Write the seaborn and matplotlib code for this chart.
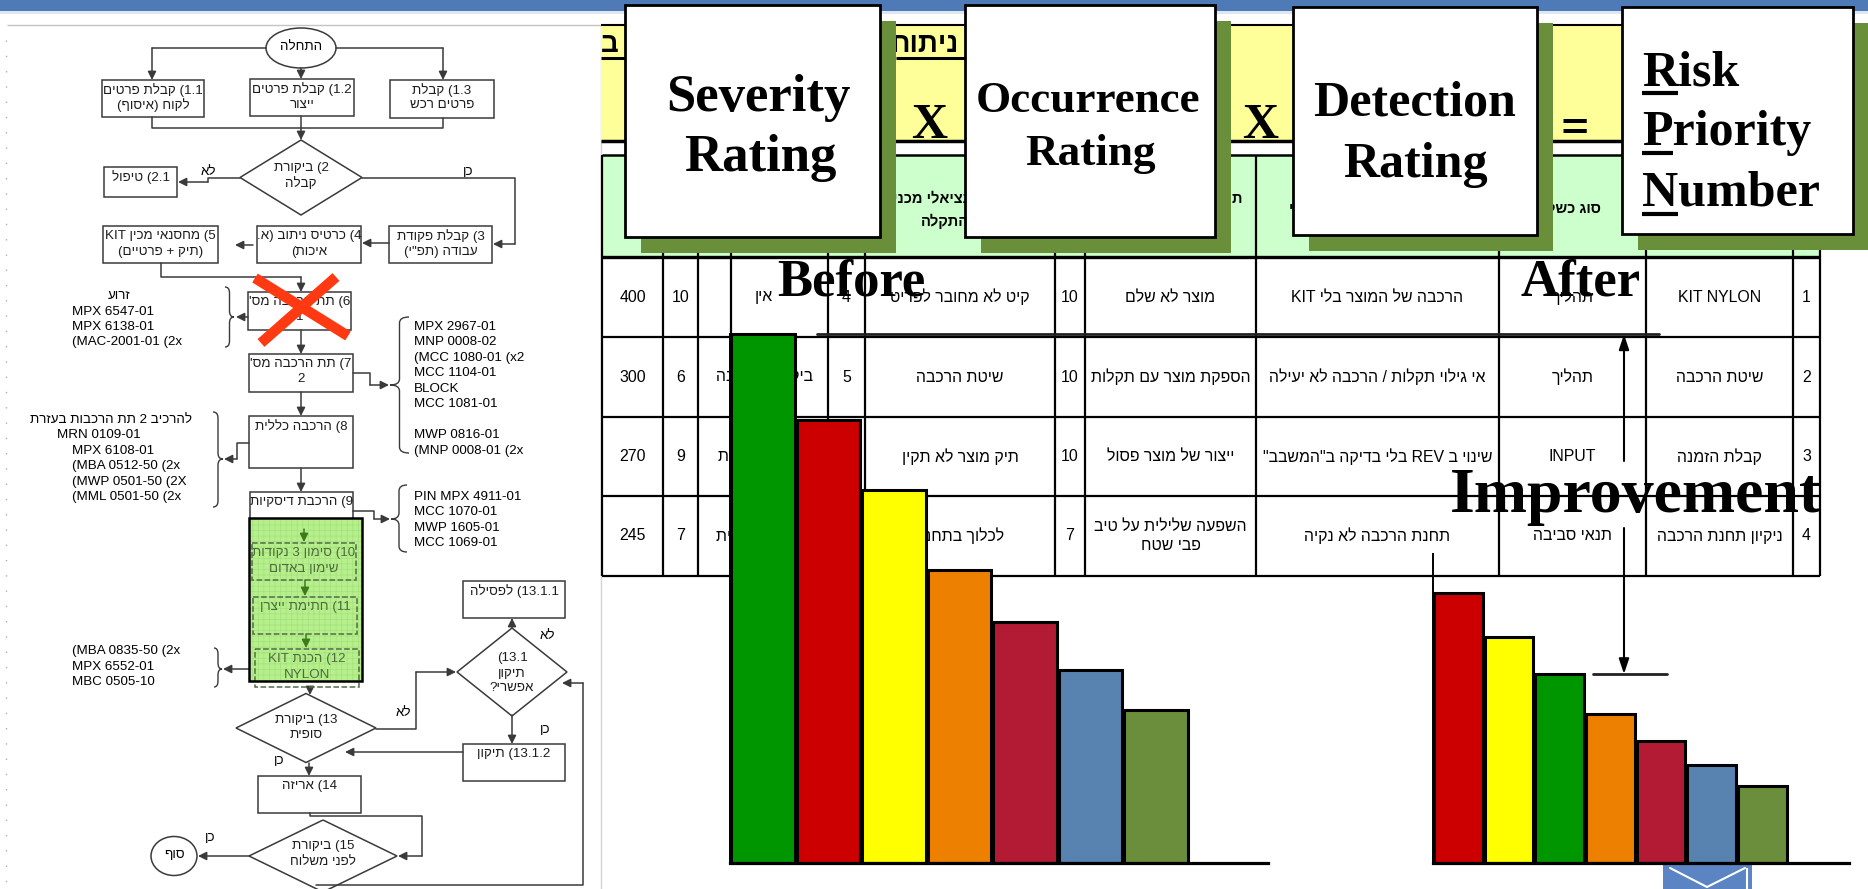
import re
import matplotlib
matplotlib.use("Agg")
import matplotlib.pyplot as plt
import matplotlib.patches as mpatches
import matplotlib.transforms as mtransforms
from matplotlib.lines import Line2D
from matplotlib.path import Path
import pandas as pd
import seaborn as sns

# ---------------------------------------------------------------- bar data
before_bars = ["green", "red", "yellow", "orange", "crimson", "blue", "olive"]
before_rpn = [400, 335, 282, 222, 182, 146, 116]
after_bars = ["red", "yellow", "green", "orange", "crimson", "blue", "olive"]
after_rpn = [204, 171, 143, 113, 92, 74, 58]
bar_palette = {"green": "#009600", "red": "#cc0000", "yellow": "#ffff00",
               "orange": "#ee8000", "crimson": "#b31b35", "blue": "#5883b1",
               "olive": "#6a8e3c"}

# ---------------------------------------------------------------- FMEA table
row_no = ["1", "2", "3", "4"]
process_step = ["KIT NYLON", "שיטת הרכבה", "קבלת הזמנה", "ניקיון תחנת הרכבה"]
failure_type = ["תהליך", "תהליך", "INPUT", "תנאי סביבה"]
failure_mode = ["הרכבה של המוצר בלי KIT", "אי גילוי תקלות / הרכבה לא יעילה",
                'שינוי ב REV בלי בדיקה ב"המשבב"', "תחנת הרכבה לא נקיה"]
failure_effect = ["מוצר לא שלם", "הספקת מוצר עם תקלות", "ייצור של מוצר פסול",
                  "השפעה שלילית על טיב\nפבי שטח"]
severity = ["10", "10", "10", "7"]
failure_cause = ["קיט לא מחובר לפריט", "שיטת הרכבה", "תיק מוצר לא תקין", "לכלוך בתחנה"]
occurrence = ["4", "5", "3", "5"]
current_control = ["אין", "ביקורת הרכבה", "בדיקת תקינות", "בדיקה ויזואלית"]
detection = ["10", "6", "9", "7"]
rpn = ["400", "300", "270", "245"]

# ---------------------------------------------------------------- helpers
HEB = re.compile(r"[\u0590-\u05FF]")
LTR_RUN = re.compile(r"[A-Za-z0-9](?:[A-Za-z0-9.\-/:,' ]*[A-Za-z0-9])?")
MIRROR = {"(": ")", ")": "(", "[": "]", "]": "[", "{": "}", "}": "{"}


def vis(s):
    """Reorder a right-to-left paragraph into left-to-right drawing order."""
    if not HEB.search(s):
        return s
    out = []
    for line in s.split("\n"):
        tokens, i = [], 0
        while i < len(line):
            m = LTR_RUN.match(line, i)
            if m and not HEB.search(m.group()):
                tokens.append(m.group())
                i = m.end()
            else:
                tokens.append(MIRROR.get(line[i], line[i]))
                i += 1
        out.append("".join(reversed(tokens)))
    return "\n".join(out)


SANS = ["Liberation Sans", "DejaVu Sans"]
SERIF = ["Liberation Serif", "DejaVu Serif"]

W, H = 1868, 889
sns.set_style("white")
fig = plt.figure(figsize=(W / 100, H / 100), dpi=100)
fig.patch.set_facecolor("white")

bg = fig.add_axes([0, 0, 1, 1], zorder=0)
bg.set_xlim(0, W)
bg.set_ylim(H, 0)
bg.axis("off")


def txt(ax, x, y, s, size=10, ha="center", va="center", family=SANS,
        weight="normal", color="black", **kw):
    return ax.text(x, y, vis(s), fontsize=size, ha=ha, va=va, family=family,
                   fontweight=weight, color=color, **kw)


def rect(ax, x0, y0, x1, y1, **kw):
    ax.add_patch(mpatches.Rectangle((x0, y0), x1 - x0, y1 - y0, **kw))


def hline(ax, y, x0, x1, lw=1.5, color="black", z=3):
    ax.add_line(Line2D([x0, x1], [y, y], lw=lw, color=color, zorder=z,
                       solid_capstyle="butt"))


def vline(ax, x, y0, y1, lw=1.5, color="black", z=3):
    ax.add_line(Line2D([x, x], [y0, y1], lw=lw, color=color, zorder=z,
                       solid_capstyle="butt"))


# ---------------------------------------------------------------- page frame
rect(bg, 0, 0, W, 11, fc="#4f7ab8", ec="none", zorder=1)
rect(bg, 0, 11, W, 14, fc="#dfe6f0", ec="none", zorder=1)
hline(bg, 25, 7, 601, lw=1.0, color="#c4c4c4", z=1)
vline(bg, 601, 25, H, lw=1.0, color="#d4d4d4", z=1)
bg.add_line(Line2D([6, 6], [40, H], lw=1.0, color="#b0b0b0",
                   ls=(0, (1, 10)), zorder=1))

# ---------------------------------------------------------------- flowchart
LC = "#3a3a3a"
FS = 9.6


def fbox(x0, y0, x1, y1, lines, ls="-", ec=LC, tcolor="#1c1c1c", z=3):
    rect(bg, x0, y0, x1, y1, fill=False, ec=ec, lw=1.1, ls=ls, zorder=z)
    cx = (x0 + x1) / 2
    for i, s in enumerate(lines):
        txt(bg, cx, y0 + 10 + 15.5 * i, s, size=FS, color=tcolor, zorder=z + 1)


def fdiamond(cx, cy, hw, hh, lines, offs):
    bg.add_patch(mpatches.Polygon([(cx, cy - hh), (cx + hw, cy), (cx, cy + hh),
                                   (cx - hw, cy)], closed=True, fill=False,
                                  ec=LC, lw=1.1, zorder=3))
    for s, o in zip(lines, offs):
        txt(bg, cx, cy + o, s, size=FS, color="#1c1c1c", zorder=4)


def flow(pts, color=LC, head=True):
    xs, ys = zip(*pts)
    if head:
        if len(pts) > 2:
            bg.plot(xs[:-1], ys[:-1], color=color, lw=1.1, zorder=2)
        bg.annotate("", xy=pts[-1], xytext=pts[-2],
                    arrowprops=dict(arrowstyle="-|>,head_length=0.5,head_width=0.25",
                                    color=color, lw=1.1, shrinkA=0, shrinkB=0),
                    zorder=2)
    else:
        bg.plot(xs, ys, color=color, lw=1.1, zorder=2)


def brace(x, y0, y1, w, ym):
    r = min(6, (ym - y0) / 2, (y1 - ym) / 2)
    xm = x + w / 2
    verts = [(x, y0), (xm, y0), (xm, y0 + r), (xm, ym - r), (xm, ym),
             (x + w, ym), (xm, ym), (xm, ym + r), (xm, y1 - r), (xm, y1), (x, y1)]
    codes = [Path.MOVETO, Path.CURVE3, Path.CURVE3, Path.LINETO, Path.CURVE3,
             Path.CURVE3, Path.CURVE3, Path.CURVE3, Path.LINETO, Path.CURVE3,
             Path.CURVE3]
    bg.add_patch(mpatches.PathPatch(Path(verts, codes), fill=False, ec=LC,
                                    lw=1.0, zorder=3))


# start
bg.add_patch(mpatches.Ellipse((301, 48), 70, 40, fill=False, ec=LC, lw=1.1, zorder=3))
txt(bg, 301, 47, "התחלה", size=FS)
flow([(301, 68), (301, 79)])
flow([(266, 48), (152, 48), (152, 80)])
flow([(336, 48), (443, 48), (443, 80)])
fbox(102, 80, 204, 117, ["1.1) קבלת פרטים", "לקוח (איסוף)"])
fbox(250, 79, 354, 116, ["1.2) קבלת פרטים", "ייצור"])
fbox(390, 80, 494, 118, ["1.3) קבלת", "פרטים רכש"])
flow([(152, 117), (152, 128), (443, 128), (443, 118)], head=False)
flow([(301, 116), (301, 140)])

fdiamond(301, 177.5, 61, 37.5, ["2) ביקורת", "קבלה"], [-9, 6])
txt(bg, 208, 172, "לא", size=FS)
txt(bg, 468, 172, "כן", size=FS)
flow([(240, 178), (208, 178), (208, 182), (178, 182)])
fbox(104, 167, 177, 197, ["2.1) טיפול"])
flow([(362, 178), (515, 178), (515, 244), (493, 244)])
fbox(389, 226, 492, 263, ['3) קבלת פקודת', 'עבודה (תפ"י)'])
flow([(389, 243), (362, 243)])
fbox(257, 226, 361, 263, ["4) כרטיס ניתוב (א.", "איכות)"])
flow([(253, 245), (235, 245)])
fbox(103, 226, 218, 263, ["5) מחסנאי מכין KIT", "(תיק + פרטיים)"])
flow([(161, 263), (161, 277), (301, 277), (301, 292)])

fbox(248, 292, 351, 330, ["6) תת הרכבה מס'", "1"])
brace(225, 287, 347, 9, 317)
flow([(248, 317), (236, 317)])
txt(bg, 119, 296, "זרוע", size=FS)
for i, s in enumerate(["MPX 6547-01", "MPX 6138-01", "(MAC-2001-01 (2x"]):
    txt(bg, 72, 312 + 15.2 * i, s, size=FS, ha="left")

flow([(301, 330), (301, 354)])
fbox(249, 354, 353, 392, ["7) תת הרכבה מס'", "2"])
brace(409, 317, 453, -19, 385)
flow([(353, 373), (370, 373), (370, 385), (389, 385)])
for s, y in zip(["MPX 2967-01", "MNP 0008-02", "(MCC 1080-01 (x2", "MCC 1104-01",
                 "BLOCK", "MCC 1081-01", "MWP 0816-01", "(MNP 0008-01 (2x"],
                [327, 342, 358, 373, 389, 404, 435, 451]):
    txt(bg, 414, y, s, size=FS, ha="left")

flow([(301, 392), (301, 416)])
fbox(249, 416, 353, 468, ["8) הרכבה כללית"])
brace(213, 412, 507, 10, 459)
flow([(249, 443), (237, 443), (237, 459), (224, 459)])
txt(bg, 192, 420, "להרכיב 2 תת הרכבות בעזרת", size=FS, ha="right")
txt(bg, 57, 435, "MRN 0109-01", size=FS, ha="left")
for i, s in enumerate(["MPX 6108-01", "(MBA 0512-50 (2x", "(MWP 0501-50 (2X",
                       "(MML 0501-50 (2x"]):
    txt(bg, 72, 451 + 15.4 * i, s, size=FS, ha="left")

flow([(301, 468), (301, 492)])
fbox(250, 492, 353, 528, ["9) הרכבת דיסקיות"])
brace(407, 485, 552, -16, 519)
flow([(353, 511), (374, 511), (374, 519), (390, 519)])
for i, s in enumerate(["PIN MPX 4911-01", "MCC 1070-01", "MWP 1605-01", "MCC 1069-01"]):
    txt(bg, 414, 497 + 15.3 * i, s, size=FS, ha="left")

# highlighted block of steps 10-12
plt.rcParams["hatch.linewidth"] = 0.5
rect(bg, 249, 518, 362, 681, fc="#b6f08c", ec="none", zorder=4)
rect(bg, 249, 518, 362, 681, fill=False, ec="#a6e07c", lw=0, hatch="+++",
     zorder=4)
GC = "#4f6a3c"
DG = "#3c7a1c"
fbox(252, 543, 356, 580, ["10) סימון 3 נקודות", "שימון באדום"], ls="--",
     ec="#556b48", tcolor=GC, z=6)
fbox(253, 597, 357, 634, ["11) חתימת ייצרן"], ls="--", ec="#556b48", tcolor=GC, z=6)
fbox(255, 649, 359, 687, ["12) הכנת KIT", "NYLON"], ls="--", ec="#556b48",
     tcolor=GC, z=6)
for (xa, ya, yb) in [(304, 529, 542), (305, 580, 596), (306, 634, 648)]:
    bg.annotate("", xy=(xa, yb), xytext=(xa, ya),
                arrowprops=dict(arrowstyle="-|>,head_length=0.5,head_width=0.25",
                                color=DG, lw=1.1, shrinkA=0, shrinkB=0), zorder=7)
rect(bg, 249, 518, 362, 681, fill=False, ec="black", lw=1.8, zorder=8)
brace(214, 648, 687, 8, 669)
flow([(255, 669), (223, 669)])
for i, s in enumerate(["(MBA 0835-50 (2x", "MPX 6552-01", "MBC 0505-10"]):
    txt(bg, 72, 651 + 15.5 * i, s, size=FS, ha="left")

flow([(310, 687), (310, 695)])
fdiamond(306, 728, 70, 34.5, ["13) ביקורת", "סופית"], [-8, 7])
txt(bg, 403, 713, "לא", size=FS)
flow([(376, 729), (416, 729), (416, 672), (456, 672)])
fdiamond(512, 672, 55, 44, ["(13.1", "תיקון", "אפשרי?"], [-14, 2, 16])
txt(bg, 547, 636, "לא", size=FS)
flow([(512, 628), (512, 618)])
fbox(463, 581, 565, 618, ["13.1.1) לפסילה"])
txt(bg, 545, 730, "כן", size=FS)
flow([(512, 715), (512, 744)])
fbox(463, 744, 565, 781, ["13.1.2) תיקון"])
flow([(463, 752), (345, 752)])
txt(bg, 279, 761, "כן", size=FS)
flow([(309, 763), (309, 776)])
fbox(258, 776, 361, 813, ["14) אריזה"])
flow([(310, 813), (310, 816), (422, 816), (422, 856), (398, 856)])
fdiamond(323, 856, 74, 36, ["15) ביקורת", "לפני משלוח"], [-10, 6])
txt(bg, 210, 838, "כן", size=FS)
flow([(249, 856), (198, 856)])
bg.add_patch(mpatches.Ellipse((174, 856), 46, 39, fill=False, ec=LC, lw=1.1, zorder=3))
txt(bg, 174, 855, "סוף", size=FS)
flow([(316, 885), (583, 885), (583, 683), (562, 683)])

# red cross over step 6
for (xa, ya, xb, yb) in [(255, 278, 348, 336), (336, 277, 261, 343)]:
    bg.add_line(Line2D([xa, xb], [ya, yb], lw=7.5, color="#ff3a12",
                       solid_capstyle="butt", zorder=9))

# ---------------------------------------------------------------- FMEA sheet
rect(bg, 601, 25, 1830, 141, fc="#ffff99", ec="none", zorder=1)
hline(bg, 25, 601, 1830, lw=1.5, z=2)
hline(bg, 141, 601, 1830, lw=2.5, z=2)
txt(bg, 959, 52, "ניתוח", size=20, ha="right", va="baseline", weight="bold", zorder=2)
hline(bg, 58, 896, 965, lw=2.2, z=2)
txt(bg, 601, 52, "ב", size=20, ha="left", va="baseline", weight="bold", zorder=2,
    clip_on=True)
hline(bg, 58, 601, 625, lw=2.2, z=2)

TL, TR = 602, 1820
rect(bg, TL, 156, TR, 257, fc="#ccffcc", ec="none", zorder=1)
hline(bg, 155, TL, TR, lw=1.8)
hline(bg, 257, TL, TR, lw=2.4)
row_edges = [257, 337, 417, 496, 576]
for y in row_edges[1:]:
    hline(bg, y, TL, TR, lw=1.6)
col_edges = [602, 663, 698, 731, 828, 865, 1055, 1085, 1256, 1499, 1646, 1793, 1820]
for x in col_edges:
    vline(bg, x, 155, 576, lw=1.6)

txt(bg, 893, 198, "גורם פוטנציאלי מכני", size=10.5, ha="left", weight="bold", zorder=2)
txt(bg, 921, 221, "התקלה", size=10.5, ha="left", weight="bold", zorder=2)
txt(bg, 1243, 198, "תוצאת הכשל", size=10.5, ha="right", weight="bold", zorder=2)
txt(bg, 1289, 208, "אופן הכשל הפוטנציאלי", size=10.5, ha="left", weight="bold", zorder=2)
txt(bg, 1601, 208, "סוג כשל", size=10.5, ha="right", weight="bold", zorder=2)

row_y = [297, 377, 456.5, 536]
table_columns = [(632.5, rpn), (680.5, detection), (764, current_control),
                 (846.5, occurrence), (960, failure_cause), (1070, severity),
                 (1170.5, failure_effect), (1377.5, failure_mode),
                 (1572.5, failure_type), (1719.5, process_step), (1806.5, row_no)]
for cx, values in table_columns:
    for y, s in zip(row_y, values):
        txt(bg, cx, y, s, size=11.4, zorder=2, linespacing=1.35)

# rating boxes with drop shadows
SH = "#6a8f3b"
boxes = [(625, 5, 880, 237), (965, 5, 1215, 237), (1293, 7, 1537, 235), (1622, 7, 1853, 234)]
for (x0, y0, x1, y1) in boxes:
    rect(bg, x0 + 16, y0 + 16, min(x1 + 16, W + 5), y1 + 16, fc=SH, ec="none", zorder=10)
    rect(bg, x0, y0, x1, y1, fc="white", ec="black", lw=2.0, zorder=11)


def big(x, y, s, size, ha="center"):
    bg.text(x, y, s, fontsize=size, ha=ha, va="baseline", family=SERIF,
            fontweight="bold", color="black", zorder=12)


big(758, 111, "Severity", 38)
big(760, 171, "Rating", 38)
big(1088, 112, "Occurrence", 32.5)
big(1090, 165, "Rating", 32.5)
big(1414, 116, "Detection", 36)
big(1415, 177, "Rating", 36)
big(1642, 85, "Risk", 36, ha="left")
big(1642, 145, "Priority", 36, ha="left")
big(1642, 206, "Number", 36, ha="left")
for (y, w) in [(93, 36), (153, 31), (214, 36)]:
    bg.add_line(Line2D([1642, 1642 + w], [y, y], lw=3.0, color="black",
                       solid_capstyle="butt", zorder=12))
big(929, 138, "X", 36)
big(1260, 138, "X", 36)
big(1575, 142, "=", 36)

# mail icon in the corner
rect(bg, 1663, 865, 1752, H, fc="#5a84c4", ec="none", zorder=2)
bg.add_line(Line2D([1670, 1707, 1745], [868, 887, 868], lw=1.5, color="white", zorder=3))
vline(bg, 1747, 868, H, lw=1.5, color="white", z=3)

# ---------------------------------------------------------------- bar charts
YMAX = 426


def px_axes(x0, y0, x1, y1, z):
    return fig.add_axes([x0 / W, 1 - y1 / H, (x1 - x0) / W, (y1 - y0) / H], zorder=z)


def rpn_bars(ax, names, values, width, left_top):
    df = pd.DataFrame({"bar": names, "rpn": values})
    sns.barplot(data=df, x="bar", y="rpn", hue="bar", order=names, hue_order=names,
                palette=bar_palette, dodge=False, legend=False, width=width,
                saturation=1, edgecolor="black", linewidth=2.2, ax=ax)
    ax.set_xlim(-0.5, 7.71)
    ax.set_ylim(0, YMAX)
    ax.set_xticks([])
    ax.set_yticks([])
    ax.set_xlabel("")
    ax.set_ylabel("")
    ax.set_facecolor("none")
    ax.patch.set_alpha(0)
    for side in ("top", "right"):
        ax.spines[side].set_visible(False)
    ax.spines["bottom"].set_linewidth(2.3)
    ax.spines["bottom"].set_color("black")
    ax.spines["left"].set_linewidth(1.4)
    ax.spines["left"].set_color("black")
    ax.spines["left"].set_bounds(0, left_top)


ax_b = px_axes(730, 300, 1268, 863, 3)
rpn_bars(ax_b, before_bars, before_rpn, 0.97, before_rpn[0])
ax_a = px_axes(1433, 300, 1849, 863, 3)
rpn_bars(ax_a, after_bars, after_rpn, 0.96, 234)

# ---------------------------------------------------------------- annotations
fg = fig.add_axes([0, 0, 1, 1], zorder=6)
fg.set_xlim(0, W)
fg.set_ylim(H, 0)
fg.axis("off")
fg.patch.set_alpha(0)

level = mtransforms.blended_transform_factory(fg.transData, ax_b.transData)
fg.add_line(Line2D([817, 1659], [before_rpn[0]] * 2, transform=level, lw=2.0,
                   color="#222222", zorder=5))
fg.add_line(Line2D([1593, 1667], [after_rpn[2]] * 2, transform=level, lw=2.0,
                   color="#222222", zorder=5))
arrow_kw = dict(arrowstyle="-|>,head_length=0.9,head_width=0.3", color="black",
                lw=1.5, shrinkA=0, shrinkB=0)
fg.annotate("", xy=(1624, before_rpn[0]), xycoords=level,
            xytext=(1624, 461), textcoords=fg.transData, arrowprops=arrow_kw)
fg.annotate("", xy=(1624, after_rpn[2]), xycoords=level,
            xytext=(1624, 528), textcoords=fg.transData, arrowprops=arrow_kw)

for x, y, s, size in [(851, 295, "Before", 38), (1581, 295, "After", 38),
                      (1636, 512, "Improvement", 46)]:
    fg.text(x, y, s, fontsize=size, ha="center", va="baseline", family=SERIF,
            fontweight="bold", color="black")

fig.savefig("out.png", dpi=100)
